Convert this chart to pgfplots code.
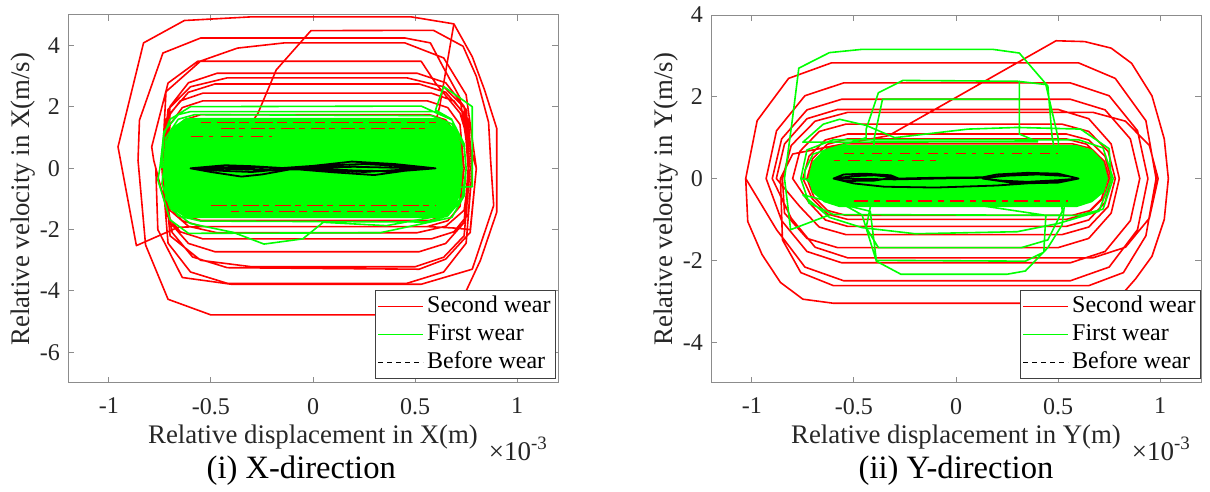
\documentclass[border=0pt]{standalone}
\usepackage{pgfplots}
\pgfplotsset{compat=1.18}
\usepackage{fontspec}
\setmainfont{Liberation Serif}
\definecolor{mgreen}{RGB}{0,255,0}
\definecolor{mred}{RGB}{255,0,0}
\pgfplotsset{
  phase/.style={
    scale only axis, width=245pt, height=184pt,
    xmin=-1.2, xmax=1.2, xtick={-1,-0.5,0,0.5,1},
    axis line style={black!45, line width=0.5pt},
    tick style={black!45, line width=0.5pt},
    tick align=inside, major tick length=3pt,
    /pgf/number format/assume math mode=true,
    ticklabel style={font=\fontsize{12}{12}\selectfont, text=black!85},
    xticklabel style={yshift=-4pt},
    yticklabel style={xshift=-0.5pt},
    every axis x label/.style={at={(axis description cs:0.5,0)}, anchor=center, yshift=-27pt, font=\fontsize{13.4}{14}\selectfont, text=black!85},
    every axis y label/.style={at={(axis description cs:0,0.5)}, anchor=center, rotate=90, yshift=22.5pt, font=\fontsize{13.4}{14}\selectfont, text=black!85},
    legend style={at={(1,0)}, anchor=south east, yshift=2pt,
      font=\fontsize{12}{12}\selectfont, draw=black!75, line width=0.5pt,
      inner xsep=1pt, inner ysep=1pt, fill=white,
      nodes={inner sep=1.5pt, text height=8.5pt, text depth=2.5pt}},
    legend cell align=left,
    legend image code/.code={\draw[#1] (0pt,0pt) -- (22.5pt,0pt);},
    clip mode=individual,
  },
  redl/.style={mred, line width=0.8pt, line join=round},
  grnl/.style={mgreen, line width=0.8pt, line join=round},
}
\begin{document}
\begin{tikzpicture}
\path[use as bounding box] (0,0) rectangle (605pt,246pt);
% ---------------- Left panel ----------------
\begin{axis}[phase, at={(34pt,54.5pt)}, anchor=south west,
  ymin=-7, ymax=5, ytick={-6,-4,-2,0,2,4},
  xlabel={Relative displacement in X(m)},
  ylabel={Relative velocity in X(m/s)},
  legend style={xshift=-1pt}]
\addplot[redl] coordinates {
(-0.71,0) (-0.70,0.94) (-0.65,1.31) (-0.57,1.45) (0.59,1.45) (0.67,1.31) (0.72,0.94) (0.73,0) (0.72,-0.88) (0.67,-1.22) (0.59,-1.35) (-0.57,-1.35) (-0.65,-1.22) (-0.70,-0.88)
(-0.7,0) (-0.69,1.14) (-0.63,1.58) (-0.55,1.75) (0.57,1.75) (0.65,1.58) (0.7,1.14) (0.72,0) (0.7,-1.11) (0.65,-1.53) (0.57,-1.7) (-0.55,-1.7) (-0.63,-1.53) (-0.69,-1.11)
(-0.72,0) (-0.7,1.43) (-0.64,1.98) (-0.54,2.2) (0.56,2.2) (0.66,1.98) (0.72,1.43) (0.74,0) (0.72,-1.24) (0.66,-1.71) (0.56,-1.9) (-0.54,-1.9) (-0.64,-1.71) (-0.7,-1.24)
(-0.74,0) (-0.72,1.59) (-0.65,2.2) (-0.54,2.45) (0.58,2.45) (0.69,2.2) (0.76,1.59) (0.78,0) (0.76,-1.5) (0.69,-2.07) (0.58,-2.3) (-0.54,-2.3) (-0.65,-2.07) (-0.72,-1.5)
(-0.73,0) (-0.7,2.02) (-0.61,2.79) (-0.47,3.1) (0.51,3.1) (0.65,2.79) (0.74,2.02) (0.77,0) (0.74,-1.37) (0.65,-1.89) (0.51,-2.1) (-0.47,-2.1) (-0.61,-1.89) (-0.7,-1.37)
(-0.72,0) (-0.7,1.79) (-0.61,2.48) (-0.48,2.75) (0.52,2.75) (0.65,2.48) (0.74,1.79) (0.76,0) (0.74,-1.77) (0.65,-2.45) (0.52,-2.72) (-0.48,-2.72) (-0.61,-2.45) (-0.7,-1.77)
(-0.78,0.26) (-0.79,0.7) (-0.71,2.78) (-0.565,3.49) (0.53,3.49) (0.6,2.78) (0.72,1.8) (0.8,0) (0.77,-2.09) (0.65,-2.96) (0.52,-3.29) (-0.42,-3.24) (-0.59,-2.89) (-0.69,-2.09)
(-0.74,0) (-0.71,1.92) (-0.6,2.66) (-0.42,2.95) (0.46,2.95) (0.64,2.66) (0.75,1.92) (0.78,0) (0.75,-2.44) (0.64,-3.38) (0.46,-3.75) (-0.42,-3.75) (-0.6,-3.38) (-0.71,-2.44)
(-0.74,0) (-0.72,2.5) (-0.55,3.5) (-0.37,3.92) (-0.14,4.09) (0.45,4.09) (0.64,3.6) (0.75,2.4) (0.8,0) (0.77,-2.0) (0.7,-1.95) (0.56,-1.9) (-0.54,-1.9)
(-0.66,-1.92) (-0.865,-2.52) (-0.955,0.7) (-0.83,4.09) (-0.63,4.82) (-0.3,4.94) (0.48,4.94) (0.69,4.71) (0.78,3.64) (0.84,2.56) (0.9,1.3) (0.9,-1.43) (0.82,-3.0) (0.75,-4.0) (0.62,-4.78) (-0.5,-4.78) (-0.71,-4.27) (-0.82,-2.5) (-0.857,0.26) (-0.85,1.57) (-0.735,3.76) (-0.55,4.25) (0.45,4.25) (0.575,4.09) (0.64,3.27) (0.72,2.3) (0.77,0) (0.74,-2.2) (0.64,-2.9) (0.5,-3.21) (-0.3,-3.21) (-0.55,-3.0) (-0.7,-2.2) (-0.73,0)
};
\addlegendentry{Second wear}
\addplot[redl, forget plot] coordinates {
(-0.3,1.5) (-0.27,1.79) (-0.18,3.21) (-0.01,4.49) (0.59,4.5) (0.735,3.98) (0.8,3.0) (0.86,1.5) (0.87,0.26) (0.885,-1.21) (0.78,-3.29) (0.53,-3.78) (-0.4,-3.78) (-0.64,-3.56) (-0.76,-2.0) (-0.77,0)
};
\addplot[redl, forget plot] coordinates {(0.69,4.71) (0.62,2.0) (0.6,1.5)};
\addplot[grnl] coordinates {
(-0.74,0) (-0.73,1.1) (-0.7,1.6) (-0.6,2.01) (0.53,2.03) (0.68,1.58) (0.74,0.8) (0.75,0) (0.74,-0.9) (0.68,-1.6) (0.33,-2.1) (-0.61,-2.12) (-0.7,-1.68) (-0.76,-0.38)
(-0.75,0) (-0.73,1.2) (-0.66,1.75) (-0.6,1.85) (0.6,1.85) (0.68,1.6) (0.6,1.9) (0.64,2.67) (0.78,2.01) (0.78,-0.6) (0.7,-0.62) (0.72,-1.0) (0.66,-1.5) (0.36,-1.87) (0.05,-1.76) (-0.05,-2.3) (-0.24,-2.47) (-0.39,-2.09) (-0.6,-1.8) (-0.7,-1.3) (-0.74,-0.5)
(-0.73,0) (-0.72,1.0) (-0.66,1.6) (-0.58,1.75) (0.58,1.72) (0.68,1.45) (0.74,0.7) (0.75,0) (0.73,-1.0) (0.66,-1.55) (0.55,-1.75) (-0.55,-1.72) (-0.66,-1.55) (-0.72,-1.0) (-0.73,0)
};
\addlegendentry{First wear}
\addplot[grnl, fill=mgreen, forget plot] coordinates {
(-0.73,0) (-0.72,0.8) (-0.69,1.3) (-0.62,1.62) (0.62,1.62) (0.69,1.3) (0.72,0.8) (0.73,0) (0.72,-0.8) (0.69,-1.3) (0.62,-1.6) (-0.62,-1.6) (-0.69,-1.3) (-0.72,-0.8) (-0.73,0)
};
\addplot[mred, line width=0.6pt, dash pattern=on 7pt off 2pt on 3pt off 3pt, forget plot] coordinates {(-0.45,1.3) (0.55,1.3)};
\addplot[mred, line width=0.6pt, dash pattern=on 5pt off 3pt on 9pt off 2pt, forget plot] coordinates {(-0.55,1.5) (0.6,1.5)};
\addplot[mred, line width=0.6pt, dash pattern=on 6pt off 3pt on 2pt off 4pt, forget plot] coordinates {(-0.6,1.05) (-0.2,1.05)};
\addplot[mred, line width=0.6pt, dash pattern=on 8pt off 2pt on 3pt off 3pt, forget plot] coordinates {(-0.5,-1.2) (0.6,-1.2)};
\addplot[mred, line width=0.6pt, dash pattern=on 4pt off 3pt on 8pt off 2pt, forget plot] coordinates {(-0.4,-1.4) (0.55,-1.4)};
\addplot[black, line width=0.9pt, line join=round, forget plot] coordinates {
(-0.6,0) (-0.5,0.06) (-0.43,0.1) (-0.3,0.07) (-0.15,0.01) (0.0,0.08) (0.19,0.22) (0.4,0.14) (0.6,0.0) (0.45,-0.08) (0.3,-0.22) (0.1,-0.13) (-0.1,-0.02) (-0.25,-0.2) (-0.35,-0.27) (-0.5,-0.12) (-0.6,0) (-0.45,0.03) (-0.3,0.03) (-0.12,0.0) (0.1,0.1) (0.25,0.14) (0.45,0.07) (0.6,0.0) (0.45,-0.04) (0.25,-0.12) (0.05,-0.05) (-0.15,-0.03) (-0.3,-0.12) (-0.45,-0.08) (-0.6,0) (-0.4,-0.02) (-0.2,-0.06) (0.0,0.02) (0.2,0.05) (0.4,0.02) (0.6,0.0) (0.4,-0.1) (0.2,-0.07) (0.0,0.0)
};
\addlegendimage{black, line width=0.6pt, dash pattern=on 2.5pt off 2pt}
\addlegendentry{Before wear}
\node[font=\fontsize{13.5}{13.5}\selectfont, text=black!85, anchor=east] at ([xshift=-1.5pt, yshift=-33pt]rel axis cs:1,0) {×10\textsuperscript{-3}};
\node[font=\fontsize{16.3}{17}\selectfont, text=black] at ([yshift=-44pt]rel axis cs:0.476,0) {(i) X-direction};
\end{axis}
% ---------------- Right panel ----------------
\begin{axis}[phase, at={(355.5pt,54.5pt)}, anchor=south west,
  ymin=-5, ymax=4, ytick={-4,-2,0,2,4},
  xlabel={Relative displacement in Y(m)},
  ylabel={Relative velocity in Y(m/s)}]
\addplot[redl] coordinates {
(-0.72,0) (-0.696,0.425) (-0.63,0.736) (-0.54,0.85) (0.57,0.85) (0.66,0.736) (0.726,0.425) (0.75,0) (0.726,-0.45) (0.66,-0.779) (0.57,-0.9) (-0.54,-0.9) (-0.63,-0.779) (-0.696,-0.45)
(-0.73,0) (-0.703,0.485) (-0.63,0.84) (-0.53,0.97) (0.54,0.97) (0.64,0.84) (0.713,0.485) (0.74,0) (0.713,-0.5) (0.64,-0.866) (0.54,-1.0) (-0.53,-1.0) (-0.63,-0.866) (-0.703,-0.5)
(-0.75,0) (-0.72,0.545) (-0.64,0.944) (-0.53,1.09) (0.54,1.09) (0.65,0.944) (0.73,0.545) (0.76,0) (0.73,-0.585) (0.65,-1.013) (0.54,-1.17) (-0.53,-1.17) (-0.64,-1.013) (-0.72,-0.585)
(-0.8,0) (-0.765,0.665) (-0.67,1.152) (-0.54,1.33) (0.52,1.33) (0.65,1.152) (0.745,0.665) (0.78,0) (0.745,-0.685) (0.65,-1.186) (0.52,-1.37) (-0.54,-1.37) (-0.67,-1.186) (-0.765,-0.685)
(-0.88,0) (-0.84,0.845) (-0.73,1.464) (-0.58,1.69) (0.5,1.69) (0.65,1.464) (0.76,0.845) (0.8,0) (0.76,-0.845) (0.65,-1.464) (0.5,-1.69) (-0.58,-1.69) (-0.73,-1.464) (-0.84,-0.845)
(-0.85,0) (-0.807,0.81) (-0.69,1.403) (-0.53,1.62) (0.67,1.62) (0.83,1.403) (0.947,0.81) (0.99,0) (0.947,-0.97) (0.83,-1.68) (0.67,-1.94) (-0.53,-1.94) (-0.69,-1.68) (-0.807,-0.97)
(-0.9,0) (-0.854,0.97) (-0.73,1.68) (-0.56,1.94) (0.56,1.94) (0.73,1.68) (0.854,0.97) (0.9,0) (0.854,-1.03) (0.73,-1.784) (0.56,-2.06) (-0.56,-2.06) (-0.73,-1.784) (-0.854,-1.03)
(-0.93,0) (-0.879,1.17) (-0.74,2.026) (-0.55,2.34) (0.56,2.34) (0.75,2.026) (0.889,1.17) (0.94,0) (0.889,-1.25) (0.75,-2.165) (0.56,-2.5) (-0.55,-2.5) (-0.74,-2.165) (-0.879,-1.25)
(-1.03,0) (-0.974,1.415) (-0.82,2.45) (-0.61,2.83) (0.6,2.83) (0.78,2.45) (0.93,1.415) (0.98,0) (0.93,-1.4) (0.82,-2.3) (0.65,-2.62) (-0.6,-2.62) (-0.76,-2.3) (-0.85,-1.5)
(-0.86,0) (-0.8,0.6) (-0.6,0.8) (-0.33,1.05) (0.49,3.37) (0.63,3.35) (0.76,3.19) (0.86,2.82) (0.96,2.02) (1.02,0.97) (1.04,0) (1.02,-1.0) (0.96,-1.9) (0.88,-2.45) (0.81,-2.85) (0.65,-3.05) (-0.6,-3.05) (-0.75,-2.95) (-0.86,-2.54) (-0.95,-1.86) (-1.02,-1.05) (-1.03,0)
};
\addlegendentry{Second wear}
\addplot[grnl] coordinates {
(-0.62,-0.89) (-0.81,-1.25) (-0.84,0) (-0.8,1.5) (-0.77,2.7) (-0.62,3.08) (-0.46,3.16) (0.18,3.16) (0.31,3.07) (0.45,2.26) (0.47,1.05) (0.53,-0.69) (0.52,-1.13) (0.45,-1.69) (0.34,-2.26) (0.25,-2.34) (-0.27,-2.34) (-0.39,-2.02) (-0.46,-0.89) (-0.6,-0.5) (-0.74,0)
(-0.74,0.2) (-0.7,0.6) (-0.44,1.0) (-0.44,1.21) (-0.38,2.1) (-0.26,2.4) (0.3,2.38) (0.44,2.3) (0.5,1.0) (0.52,-0.8) (0.45,-1.5) (0.32,-1.69) (-0.38,-1.69) (-0.44,-1.2) (-0.42,-0.7)
(-0.4,1.0) (-0.36,1.94) (0.31,1.94) (0.31,2.38) (0.31,1.09) (0.4,0.9)
(-0.75,0.89) (-0.65,1.33) (-0.57,1.45) (-0.44,1.3) (-0.3,1.0) (0.06,1.21) (0.3,1.25) (0.61,1.21) (0.75,0.73) (0.76,0) (0.7,-0.8) (0.5,-1.1) (0.3,-1.3) (-0.2,-1.35) (-0.46,-1.2) (-0.62,-0.95) (-0.75,-0.4)
(-0.42,-0.8) (-0.39,-2.0) (0.34,-2.02) (0.43,-1.8) (0.44,-0.9)
(-0.76,0) (-0.73,0.7) (-0.6,0.95) (0.6,0.95) (0.72,0.75) (0.77,0) (0.72,-0.75) (0.6,-0.9) (-0.6,-0.88) (-0.72,-0.6) (-0.76,0)
};
\addlegendentry{First wear}
\addplot[grnl, fill=mgreen, forget plot] coordinates {
(-0.72,0) (-0.7,0.4) (-0.645,0.69) (-0.57,0.8) (0.59,0.8) (0.665,0.69) (0.72,0.4) (0.74,0) (0.72,-0.33) (0.665,-0.56) (0.59,-0.68) (-0.57,-0.68) (-0.645,-0.56) (-0.7,-0.33) (-0.72,0)
};
\addplot[mred, line width=0.6pt, dash pattern=on 5pt off 3pt on 2pt off 4pt, forget plot] coordinates {(-0.55,0.62) (0.5,0.62)};
\addplot[mred, line width=0.6pt, dash pattern=on 3pt off 4pt on 6pt off 3pt, forget plot] coordinates {(-0.6,0.45) (-0.1,0.45)};
\addplot[mred, line width=0.6pt, dash pattern=on 7pt off 3pt on 3pt off 3pt, forget plot] coordinates {(-0.5,-0.55) (0.55,-0.55)};
\addplot[black, line width=0.9pt, line join=round, forget plot] coordinates {
(-0.6,0) (-0.55,0.1) (-0.45,0.12) (-0.32,0.08) (-0.28,0.0) (-0.1,0.02) (0.13,0.03) (0.2,0.1) (0.35,0.14) (0.5,0.12) (0.6,0) (0.52,-0.06) (0.4,-0.1) (0.2,-0.17) (-0.1,-0.22) (-0.35,-0.2) (-0.5,-0.12) (-0.6,0) (-0.5,0.06) (-0.4,0.08) (-0.3,0.03) (-0.4,-0.05) (-0.55,-0.06) (-0.6,0) (-0.3,-0.02) (0.0,0.01) (0.15,0.02) (0.25,0.07) (0.4,0.1) (0.55,0.06) (0.6,0) (0.5,-0.04) (0.35,-0.08) (0.22,-0.05) (0.13,0.0) (0.3,-0.12) (0.5,-0.1) (0.6,0)
};
\addlegendimage{black, line width=0.6pt, dash pattern=on 2.5pt off 2pt}
\addlegendentry{Before wear}
\node[font=\fontsize{13.5}{13.5}\selectfont, text=black!85, anchor=east] at ([xshift=-1.5pt, yshift=-33pt]rel axis cs:1,0) {×10\textsuperscript{-3}};
\node[font=\fontsize{16.3}{17}\selectfont, text=black] at ([yshift=-44pt]rel axis cs:0.5,0) {(ii) Y-direction};
\end{axis}
\end{tikzpicture}
\end{document}
